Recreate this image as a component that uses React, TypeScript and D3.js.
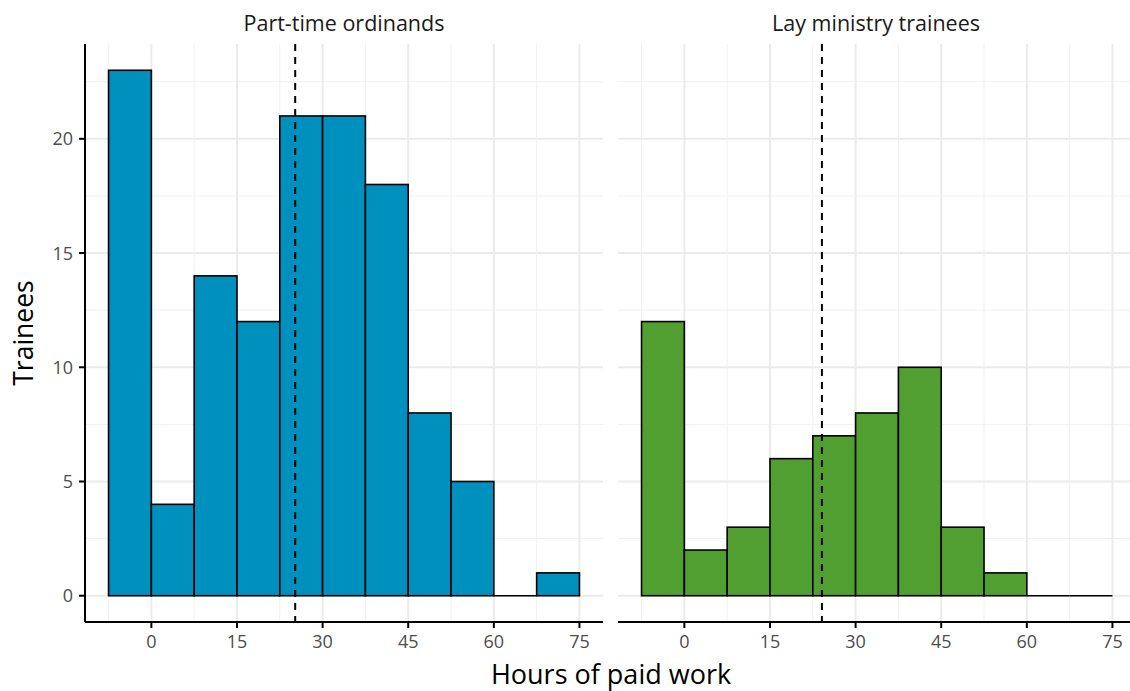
import React from "react";
import * as d3 from "d3";

const binStarts = [-7.5, 0, 7.5, 15, 22.5, 30, 37.5, 45, 52.5, 60, 67.5];
const binWidth = 7.5;
const partTimeCounts = [23, 4, 14, 12, 21, 21, 18, 8, 5, 0, 1];
const layCounts = [12, 2, 3, 6, 7, 8, 10, 3, 1, 0, 0];
const panelTitles = ["Part-time ordinands", "Lay ministry trainees"];
const panelMeans = [25.2, 24.1];
const panelColors = ["#0090BE", "#519E31"];
const xTicks = [0, 15, 30, 45, 60, 75];
const yTicks = [0, 5, 10, 15, 20];

const W = 1130, H = 691;
const top = 44, bottom = 622;
const panels = [
  { x0: 85, x1: 603 },
  { x0: 618, x1: 1136 },
];
const FONT = "'Open Sans', 'DejaVu Sans', sans-serif";

export default function App() {
  const xMin = -7.5, xMax = 75;
  const xPad = (xMax - xMin) * 0.05;
  const yMax = 23;
  const y = d3.scaleLinear().domain([-yMax * 0.05, yMax * 1.05]).range([bottom, top]);
  const series = [partTimeCounts, layCounts];
  const minorY = d3.range(2.5, 24, 5);
  const gridX = d3.range(-7.5, 76, 7.5);

  return (
    <svg width={W} height={H} style={{ position: "absolute", left: 0, top: 0, background: "#fff" }}>
      <rect width={W} height={H} fill="#fff" />
      {panels.map((p, pi) => {
        const x = d3.scaleLinear().domain([xMin - xPad, xMax + xPad]).range([p.x0, p.x1]);
        const counts = series[pi];
        return (
          <g key={pi}>
            <clipPath id={`clip${pi}`}>
              <rect x={p.x0} y={top} width={p.x1 - p.x0} height={bottom - top} />
            </clipPath>
            <g clipPath={`url(#clip${pi})`}>
              {minorY.map((v) => (
                <line key={"my" + v} x1={p.x0} x2={p.x1} y1={y(v)} y2={y(v)} stroke="#f0f0f0" strokeWidth={1} />
              ))}
              {yTicks.map((v) => (
                <line key={"y" + v} x1={p.x0} x2={p.x1} y1={y(v)} y2={y(v)} stroke="#ebebeb" strokeWidth={2} />
              ))}
              {gridX.map((v) => (
                <line key={"x" + v} x1={x(v)} x2={x(v)} y1={top} y2={bottom} stroke={v % 15 === 0 ? "#ebebeb" : "#f0f0f0"} strokeWidth={v % 15 === 0 ? 2 : 1} />
              ))}
              {binStarts.map((b, i) =>
                counts[i] > 0 ? (
                  <rect key={"b" + i} x={x(b)} y={y(counts[i])} width={x(b + binWidth) - x(b)} height={y(0) - y(counts[i])}
                    fill={panelColors[pi]} stroke="#000" strokeWidth={1.6} />
                ) : (
                  <line key={"b" + i} x1={x(b)} x2={x(b + binWidth)} y1={y(0)} y2={y(0)} stroke="#000" strokeWidth={1.6} />
                )
              )}
              <line x1={x(panelMeans[pi])} x2={x(panelMeans[pi])} y1={top} y2={bottom} stroke="#000" strokeWidth={2} strokeDasharray="7,6" />
            </g>
            <line x1={p.x0} x2={p.x1} y1={bottom} y2={bottom} stroke="#000" strokeWidth={2} />
            {xTicks.map((t) => (
              <g key={"xt" + t}>
                <line x1={x(t)} x2={x(t)} y1={bottom} y2={bottom + 6} stroke="#000" strokeWidth={2} />
                <text x={x(t)} y={bottom + 26} textAnchor="middle" fontFamily={FONT} fontSize={18} fill="#4d4d4d">{t}</text>
              </g>
            ))}
            <text x={(p.x0 + Math.min(p.x1, W)) / 2 + (pi === 1 ? 2 : 0)} y={31} textAnchor="middle" fontFamily={FONT} fontSize={21.5} fill="#1a1a1a">{panelTitles[pi]}</text>
            {pi === 0 && (
              <g>
                <line x1={p.x0} x2={p.x0} y1={top} y2={bottom} stroke="#000" strokeWidth={2} />
                {yTicks.map((t) => (
                  <g key={"yt" + t}>
                    <line x1={p.x0 - 6} x2={p.x0} y1={y(t)} y2={y(t)} stroke="#000" strokeWidth={2} />
                    <text x={p.x0 - 12} y={y(t) + 6.5} textAnchor="end" fontFamily={FONT} fontSize={18} fill="#4d4d4d">{t}</text>
                  </g>
                ))}
              </g>
            )}
          </g>
        );
      })}
      <text x={611} y={684} textAnchor="middle" fontFamily={FONT} fontSize={27} fill="#000">Hours of paid work</text>
      <text transform={`translate(33, ${(top + bottom) / 2}) rotate(-90)`} textAnchor="middle" fontFamily={FONT} fontSize={26.5} fill="#000">Trainees</text>
    </svg>
  );
}
